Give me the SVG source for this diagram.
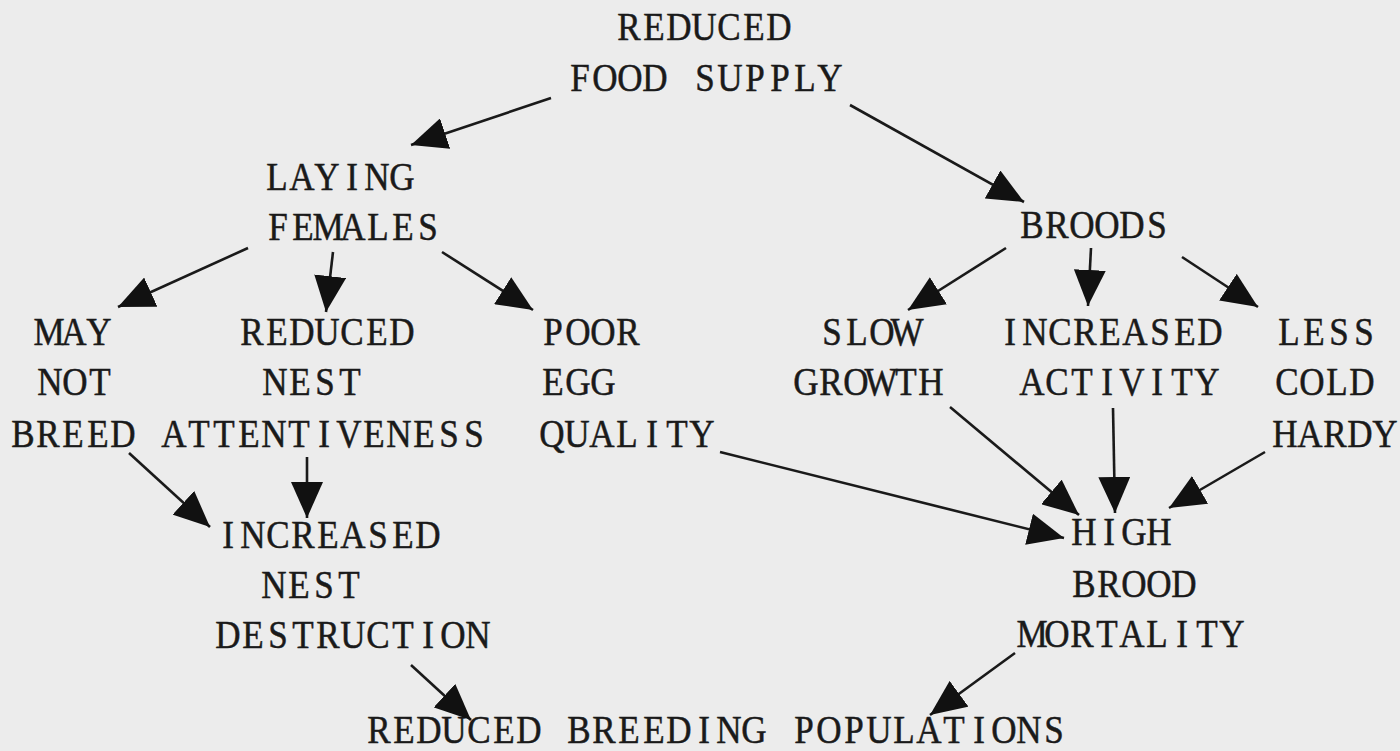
<svg xmlns="http://www.w3.org/2000/svg" width="1400" height="751" viewBox="0 0 1400 751">
<style>
text{font-family:"Liberation Serif","Times New Roman",serif;font-size:40.8px;fill:#1a1a1a;stroke:#1a1a1a;stroke-width:0.5;text-anchor:middle;}
.c line{stroke:#1a1a1a;stroke-width:2.6;marker-end:url(#ah);}
</style>
<defs>
<marker id="ah" viewBox="0 0 36 32" refX="36" refY="16" markerWidth="36" markerHeight="32" markerUnits="userSpaceOnUse" orient="auto">
<path d="M0,0 L36,16 L0,32 Z" fill="#111"/>
</marker>
</defs>
<rect width="1400" height="751" fill="#ececec"/>
<g id="food">
<text transform="translate(618,40) scale(0.86,1)" x="12.79 41.86 70.93 100 129.07 158.14 187.21">REDUCED</text>
<text transform="translate(569,91) scale(0.86,1)" x="12.79 41.86 70.93 100 129.07 158.14 187.21 216.28 245.35 274.42 303.49">FOOD SUPPLY</text>
</g>
<g id="laying">
<text transform="translate(266,190) scale(0.86,1)" x="12.79 41.86 70.93 100 129.07 158.14">LAYING</text>
<text transform="translate(267,240) scale(0.86,1)" x="12.79 41.86 70.93 100 129.07 158.14 187.21">FEMALES</text>
</g>
<g id="broods">
<text transform="translate(1021,238) scale(0.86,1)" x="12.79 41.86 70.93 100 129.07 158.14">BROODS</text>
</g>
<g id="maynot">
<text transform="translate(38,345) scale(0.86,1)" x="12.79 41.86 70.93">MAY</text>
<text transform="translate(39,395) scale(0.86,1)" x="12.79 41.86 70.93">NOT</text>
<text transform="translate(12,447) scale(0.86,1)" x="12.79 41.86 70.93 100 129.07">BREED</text>
</g>
<g id="attent">
<text transform="translate(241,345) scale(0.86,1)" x="12.79 41.86 70.93 100 129.07 158.14 187.21">REDUCED</text>
<text transform="translate(264,395) scale(0.86,1)" x="12.79 41.86 70.93 100">NEST</text>
<text transform="translate(163,447) scale(0.86,1)" x="12.79 41.86 70.93 100 129.07 158.14 187.21 216.28 245.35 274.42 303.49 332.56 361.63">ATTENTIVENESS</text>
</g>
<g id="egg">
<text transform="translate(542,345) scale(0.86,1)" x="12.79 41.86 70.93 100">POOR</text>
<text transform="translate(542,395) scale(0.86,1)" x="12.79 41.86 70.93">EGG</text>
<text transform="translate(541,447) scale(0.86,1)" x="12.79 41.86 70.93 100 129.07 158.14 187.21">QUALITY</text>
</g>
<g id="slow">
<text transform="translate(821,345) scale(0.86,1)" x="12.79 41.86 70.93 100">SLOW</text>
<text transform="translate(795,395) scale(0.86,1)" x="12.79 41.86 70.93 100 129.07 158.14">GROWTH</text>
</g>
<g id="activity">
<text transform="translate(999,345) scale(0.86,1)" x="12.79 41.86 70.93 100 129.07 158.14 187.21 216.28 245.35">INCREASED</text>
<text transform="translate(1021,395) scale(0.86,1)" x="12.79 41.86 70.93 100 129.07 158.14 187.21 216.28">ACTIVITY</text>
</g>
<g id="cold">
<text transform="translate(1278,345) scale(0.86,1)" x="12.79 41.86 70.93 100">LESS</text>
<text transform="translate(1276,395) scale(0.86,1)" x="12.79 41.86 70.93 100">COLD</text>
<text transform="translate(1274,447) scale(0.86,1)" x="12.79 41.86 70.93 100 129.07">HARDY</text>
</g>
<g id="nestdest">
<text transform="translate(217,548) scale(0.86,1)" x="12.79 41.86 70.93 100 129.07 158.14 187.21 216.28 245.35">INCREASED</text>
<text transform="translate(263,598) scale(0.86,1)" x="12.79 41.86 70.93 100">NEST</text>
<text transform="translate(217,648) scale(0.86,1)" x="12.79 41.86 70.93 100 129.07 158.14 187.21 216.28 245.35 274.42 303.49">DESTRUCTION</text>
</g>
<g id="mortality">
<text transform="translate(1073,545) scale(0.86,1)" x="12.79 41.86 70.93 100">HIGH</text>
<text transform="translate(1073,597) scale(0.86,1)" x="12.79 41.86 70.93 100 129.07">BROOD</text>
<text transform="translate(1021,647) scale(0.86,1)" x="12.79 41.86 70.93 100 129.07 158.14 187.21 216.28 245.35">MORTALITY</text>
</g>
<g id="populations">
<text transform="translate(368,743) scale(0.86,1)" x="12.79 41.86 70.93 100 129.07 158.14 187.21 216.28 245.35 274.42 303.49 332.56 361.63 390.7 419.77 448.84 477.91 506.98 536.05 565.12 594.19 623.26 652.33 681.4 710.47 739.53 768.6 797.67">REDUCED BREEDING POPULATIONS</text>
</g>
<g class="c" id="connectors">
<line x1="551" y1="98" x2="411" y2="145"/>
<line x1="850" y1="105" x2="1024" y2="202"/>
<line x1="248" y1="248" x2="118" y2="307"/>
<line x1="333" y1="252" x2="326" y2="312"/>
<line x1="442" y1="252" x2="533" y2="310"/>
<line x1="1006" y1="248" x2="908" y2="310"/>
<line x1="1091" y1="248" x2="1088" y2="306"/>
<line x1="1182" y1="257" x2="1258" y2="307"/>
<line x1="129" y1="453" x2="210" y2="527"/>
<line x1="307" y1="457" x2="307" y2="518"/>
<line x1="720" y1="452" x2="1064" y2="538"/>
<line x1="950" y1="407" x2="1079" y2="515"/>
<line x1="1113" y1="408" x2="1115" y2="513"/>
<line x1="1265" y1="452" x2="1169" y2="508"/>
<line x1="411" y1="665" x2="471" y2="720"/>
<line x1="1015" y1="653" x2="930" y2="715"/>
</g>
</svg>
